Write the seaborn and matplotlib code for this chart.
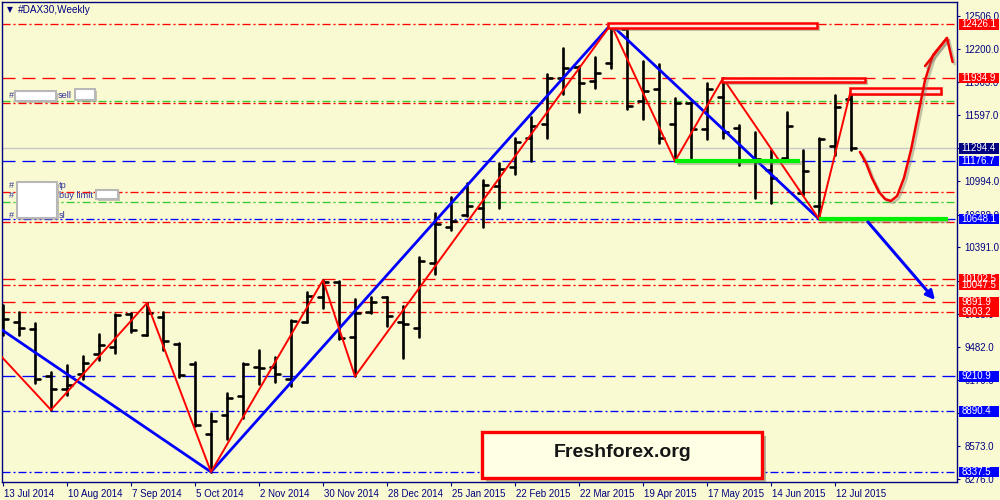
import numpy as np
import pandas as pd
import matplotlib
matplotlib.use("Agg")
import matplotlib.pyplot as plt
import matplotlib.transforms as mtransforms
import matplotlib.patheffects as pe
from matplotlib.patches import Rectangle
import seaborn as sns

# ---------------- data ----------------
x_tick_labels = ['13 Jul 2014', '10 Aug 2014', '7 Sep 2014', '5 Oct 2014', '2 Nov 2014',
                 '30 Nov 2014', '28 Dec 2014', '25 Jan 2015', '22 Feb 2015', '22 Mar 2015',
                 '19 Apr 2015', '17 May 2015', '14 Jun 2015', '12 Jul 2015']
y_ticks = [12506.0, 12200.0, 11903.0, 11597.0, 11294.0, 10994.0, 10688.0, 10391.0,
           10085.0, 9785.0, 9482.0, 9179.0, 8876.0, 8573.0, 8276.0]

open_ = [9799, 9708, 9644, 9214, 9096, 9233, 9415, 9479, 9781, 9589,
         9753, 9507, 9324, 8684, 8858, 9032, 9297, 9297, 9187, 9708,
         9936, 10073, 9571, 9799, 9936, 9708, 9653, 10247, 10576, 10685,
         10749, 10950, 11124, 11389, 11517, 11937, 12037, 11909, 12074, 12384,
         11727, 11836, 11517, 11708, 11471, 11763, 11480, 11188, 11096, 11206,
         10886, 10767, 11316, 11745]
high = [9863, 9799, 9699, 9251, 9315, 9397, 9598, 9781, 9790, 9881,
        9799, 9516, 9342, 8876, 9059, 9333, 9452, 9388, 9726, 9982,
        10091, 10082, 9918, 9936, 9940, 9854, 10301, 10703, 10850, 10978,
        11005, 11160, 11389, 11580, 11973, 12211, 12050, 12129, 12426.1, 12393,
        12092, 12065, 11754, 11718, 11891, 11934.9, 11507, 11443, 11279, 11626,
        11279, 11389, 11782, 11830]
low = [9589, 9589, 9150, 8904, 9041, 9187, 9360, 9424, 9616, 9589,
       9452, 9205, 8760, 8337.5, 8639, 8831, 9141, 9160, 9123, 9708,
       9836, 9552, 9210.9, 9790, 9671, 9379, 9571, 10146, 10548, 10676,
       10576, 10749, 11060, 11179, 11389, 11791, 11626, 11846, 12028, 11654,
       11562, 11343, 11176.7, 11206, 11380, 11389, 11142, 10840, 10795, 11206,
       10868, 10648.1, 11233, 11279]
close = [9735, 9653, 9187, 9096, 9132, 9333, 9498, 9772, 9635, 9790,
         9534, 9224, 8770, 8803, 9013, 9325, 9290, 9233, 9720, 9945,
         10073, 9561, 9790, 9890, 9762, 9689, 10265, 10603, 10630, 10767,
         10959, 11105, 11352, 11498, 11937, 12028, 11891, 11982, 12384, 11681,
         11818, 11389, 11708, 11471, 11836, 11443, 11179, 11197, 11023, 11498,
         11087, 11380, 11672, 11294.4]

# zigzag pivots (bar index, price)
red_zz_bar = [-0.1, 3, 9, 13, 20, 22, 38, 42, 45, 51, 53]
red_zz_price = [9392, 8904, 9881, 8337.5, 10091, 9210.9, 12426.1, 11176.7, 11934.9, 10648.1, 11830]
blue_zz_bar = [-0.1, 13, 38, 51]
blue_zz_price = [9639, 8337.5, 12426.1, 10648.1]

# horizontal levels
level_price = [12426.1, 11934.9, 11731, 11708, 11176.7, 10893, 10801, 10648.1, 10624,
               10102.5, 10047.5, 9891.9, 9803.2, 9210.9, 8890.4, 8337.5]
level_color = ['red', 'red', 'green', 'red', 'blue', 'red', 'green', 'blue', 'red',
               'red', 'red', 'red', 'red', 'blue', 'blue', 'blue']
level_style = ['dashdot', 'dash', 'dashdot', 'dashdot', 'dash', 'dashdot', 'dashdot', 'dashdotdot', 'dashdot',
               'dash', 'dashdot', 'dash', 'dashdot', 'dash', 'dashdot', 'dashdot']
current_price = 11294.4

# price labels on the right axis (drawn in this order)
label_price = [10047.5, 12426.1, 11934.9, 11294.4, 11176.7, 10648.1, 10102.5, 9803.2, 9891.9,
               9210.9, 8890.4, 8337.5]
label_color = ['red', 'red', 'red', 'navy', 'blue', 'blue', 'red', 'red', 'red', 'blue', 'blue', 'blue']

# drawn annotations (bar index / price)
green_seg_start = [42, 51]
green_seg_end = [49.8, 59.06]
green_seg_price = [11176.7, 10648.1]
rect_x0 = [37.8, 44.94, 52.94]
rect_x1 = [50.9, 53.9, 58.6]
rect_p0 = [12396, 11900, 11795]
rect_p1 = [12437, 11941, 11841]
curve_bar = [53.56, 53.94, 54.31, 54.75, 55.13, 55.5, 55.88, 56.31, 56.75, 57.19, 57.63, 58.13, 59.0]
curve_price = [11261, 11160, 11023, 10895, 10831, 10813, 10859, 11023, 11279, 11599, 11918, 12147, 12302]
blue_arrow_bar = [54.06, 58.25]
blue_arrow_price = [10621, 9909]

# ---------------- style ----------------
BG = '#FAFAD2'
NAVY = '#000080'
COL = {'red': '#FF0000', 'blue': '#0000FF', 'green': '#32CD32', 'navy': '#000080'}
FS = 7.0

sns.set_theme(style='white')
plt.rcParams['font.family'] = ['Liberation Sans', 'DejaVu Sans']
plt.rcParams['lines.scale_dashes'] = False

W, H = 1000, 500
fig = plt.figure(figsize=(10, 5), dpi=100, facecolor=BG)
ax = fig.add_axes([2 / W, 1 - 482 / H, 955 / W, 480 / H])
ax.set_facecolor(BG)
ax.set_xlim(-0.0625, 59.625)
ax.set_ylim(8245.8, 12631.1)
PPX = (12631.1 - 8245.8) / 480.0  # price per pixel

PX = 0.72  # points per pixel
styles = {
    'dash': (0, (13 * PX, 7 * PX)),
    'dashdot': (0, (8 * PX, 3 * PX, 2 * PX, 3 * PX)),
    'dashdotdot': (0, (8 * PX, 3 * PX, 2 * PX, 3 * PX, 2 * PX, 3 * PX)),
}

# current price line
ax.axhline(current_price, color='#C8C8C8', lw=1.0, zorder=1)
# horizontal levels
for p, c, s in zip(level_price, level_color, level_style):
    ax.axhline(p, color=COL[c], lw=0.95, linestyle=styles[s], zorder=1)

# OHLC bars through seaborn
segs = []
tick = 0.32
for i, (o, h, l, c) in enumerate(zip(open_, high, low, close)):
    segs += [(3 * i, i, l), (3 * i, i, h),
             (3 * i + 1, i - tick, o), (3 * i + 1, i, o),
             (3 * i + 2, i, c), (3 * i + 2, i + tick, c)]
seg_df = pd.DataFrame(segs, columns=['unit', 'x', 'y'])
sns.lineplot(data=seg_df, x='x', y='y', units='unit', estimator=None, sort=False,
             color='black', lw=1.9, ax=ax, legend=False, zorder=3)

# zigzags
zz_red = pd.DataFrame({'x': red_zz_bar, 'y': red_zz_price})
zz_blue = pd.DataFrame({'x': blue_zz_bar, 'y': blue_zz_price})
sns.lineplot(data=zz_blue, x='x', y='y', sort=False, color=COL['blue'], lw=2.0, ax=ax, zorder=4)
sns.lineplot(data=zz_red, x='x', y='y', sort=False, color=COL['red'], lw=1.4, ax=ax, zorder=4)

shadow = [pe.SimpleLineShadow(offset=(1.5, -1.5), shadow_color='#808070', alpha=0.45), pe.Normal()]

# green thick segments
for a, b, p in zip(green_seg_start, green_seg_end, green_seg_price):
    ax.plot([a, b], [p, p], color='#00F000', lw=3.0, solid_capstyle='butt', zorder=5,
            path_effects=shadow)

# red rectangles
for x0, x1, p0, p1 in zip(rect_x0, rect_x1, rect_p0, rect_p1):
    r = Rectangle((x0, p0), x1 - x0, p1 - p0, fc='#FFE6DC', ec='#FF0000', lw=1.8, zorder=6,
                  path_effects=[pe.SimplePatchShadow(offset=(2, -2), shadow_rgbFace='#808070', alpha=0.45), pe.Normal()])
    ax.add_patch(r)

# hand drawn red curve with arrow head
ax.plot(curve_bar, curve_price, color='#F00000', lw=1.8, zorder=6, solid_capstyle='round',
        path_effects=shadow, clip_on=False)
ax.plot([57.63, 59.0, 59.35], [12046, 12302, 12083], color='#F00000', lw=1.8, zorder=6,
        solid_capstyle='round', path_effects=shadow, clip_on=False)

# blue arrow
ax.annotate('', xy=(blue_arrow_bar[1], blue_arrow_price[1]), xytext=(blue_arrow_bar[0], blue_arrow_price[0]),
            arrowprops=dict(arrowstyle='-|>', color=COL['blue'], lw=2.2, mutation_scale=13,
                            shrinkA=0, shrinkB=0), zorder=6)

# Freshforex box
box = Rectangle((29.94, 8282), 17.5, 421, fc='#FFFFE6', ec='#FF0000', lw=2.4, zorder=7,
                path_effects=[pe.SimplePatchShadow(offset=(3, -3), shadow_rgbFace='#707060', alpha=0.5), pe.Normal()])
ax.add_patch(box)
ax.text(38.7, 8515, 'Freshforex.org', fontsize=14, fontweight='bold', color='#151515',
        ha='center', va='center', zorder=8)

# axes styling
for sp in ax.spines.values():
    sp.set_color(NAVY)
    sp.set_linewidth(1.0)
ax.set_xlabel('')
ax.set_ylabel('')
ax.yaxis.tick_right()
ax.set_yticks(y_ticks)
ax.set_yticklabels([f'{v:.1f}' for v in y_ticks])
ax.tick_params(axis='y', direction='out', length=2.5, width=0.8, color=NAVY, labelcolor=NAVY,
               labelsize=FS, pad=3.0, right=True, left=False)
ax.set_xticks(list(range(0, 53, 4)))
ax.set_xticklabels(x_tick_labels)
ax.tick_params(axis='x', direction='out', length=3, width=0.8, color=NAVY, labelcolor=NAVY,
               labelsize=FS, pad=2, bottom=True)
offset = mtransforms.ScaledTranslation(1 / 100, 0, fig.dpi_scale_trans)
for lbl in ax.get_xticklabels():
    lbl.set_horizontalalignment('left')
    lbl.set_transform(lbl.get_transform() + offset)

# right price labels
blend = mtransforms.blended_transform_factory(ax.transAxes, ax.transData)
bx0 = (959 - 2) / 955.0
bw = 40 / 955.0
bh = 10.5 * PPX
for p, c in zip(label_price, label_color):
    ax.add_patch(Rectangle((bx0, p - bh / 2), bw, bh, transform=blend, fc=COL[c], ec='none',
                           clip_on=False, zorder=19))
    ax.text(bx0 + 2.5 / 955.0, p, f'{p:.1f}', transform=blend, ha='left', va='center', fontsize=FS,
            color='white', clip_on=False, zorder=20)

# header text
def fx(x):
    return x / W

def fy(y):
    return 1 - y / H

fig.text(fx(7), fy(10), '\u25BC', fontsize=5.5, color=NAVY, va='center', ha='left', family='DejaVu Sans')
fig.text(fx(18), fy(10), '#DAX30,Weekly', fontsize=7.2, color=NAVY, va='center', ha='left')

# order labels (masked)
def white_box(x0, y0, x1, y1):
    rr = Rectangle((fx(x0), fy(y1)), fx(x1 - x0), (y1 - y0) / H, transform=fig.transFigure,
                   fc='white', ec='#B8B8B8', lw=1.5, zorder=30,
                   path_effects=[pe.SimplePatchShadow(offset=(1.5, -1.5), shadow_rgbFace='#909090', alpha=0.5), pe.Normal()])
    fig.patches.append(rr)

for txt, x, y in [('#', 9, 96), ('sell', 58, 96), ('#', 9, 186), ('tp', 59, 186),
                  ('#', 9, 196), ('buy limit', 59, 196), ('#', 9, 216), ('sl', 59, 216)]:
    fig.text(fx(x), fy(y), txt, fontsize=6.6, color='#3030A0', va='center', ha='left', zorder=29)
white_box(15, 91, 56, 101)
white_box(75, 89, 95, 100)
white_box(17, 182, 57, 218)
white_box(96, 190, 118, 199)

fig.savefig('out.png', dpi=100, facecolor=BG)
